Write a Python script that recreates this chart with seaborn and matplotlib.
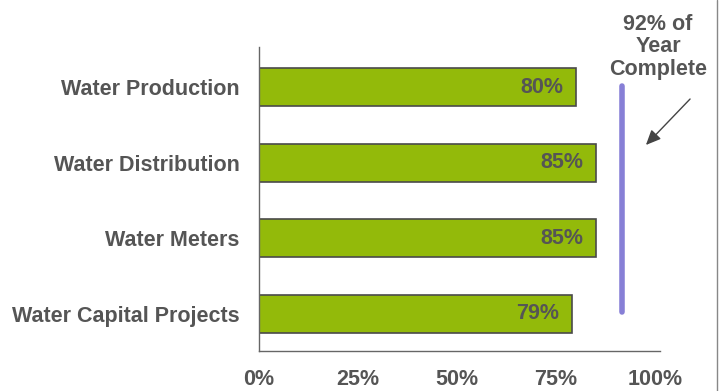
import seaborn as sns
import pandas as pd
import matplotlib.pyplot as plt
from matplotlib.lines import Line2D

divisions = ['Water Production', 'Water Distribution', 'Water Meters', 'Water Capital Projects']
pct_spent = [0.80, 0.85, 0.85, 0.79]
x_ticks = [0, 0.25, 0.5, 0.75, 1.0]
tick_labels = ['0%', '25%', '50%', '75%', '100%']
year_complete = 0.915

sns.set_style('white')
plt.rcParams['font.family'] = ['Liberation Sans', 'DejaVu Sans']

grey = '#555555'
fs = 15.5
df = pd.DataFrame({'division': divisions, 'pct': pct_spent})

fig = plt.figure(figsize=(7.24, 3.91), dpi=100)
ax = fig.add_axes([259 / 724, 40 / 391, 401 / 724, 304 / 391])

sns.barplot(data=df, x='pct', y='division', orient='h', color='#93BA0A',
            saturation=1, width=0.5, edgecolor='#4a4a4a', linewidth=1.2, ax=ax)

for i, v in enumerate(pct_spent):
    ax.annotate(f'{v:.0%}', (v, i), xytext=(-9, 0), textcoords='offset points',
                ha='right', va='center', fontsize=fs, fontweight='bold', color=grey)

# year complete marker
ax.plot([year_complete, year_complete], [-0.02, 2.98], color='#877fd6', lw=4,
        solid_capstyle='round', clip_on=False)

ax.set_xlim(0, 1.012)
ax.set_ylim(3.49, -0.53)
ax.set_xticks(x_ticks)
ax.set_xticklabels(tick_labels)
ax.set_xlabel('')
ax.set_ylabel('')
ax.tick_params(axis='x', length=0, pad=13, labelsize=fs, labelcolor=grey)
ax.tick_params(axis='y', length=0, pad=14, labelsize=fs, labelcolor=grey)
for lab in ax.get_xticklabels() + ax.get_yticklabels():
    lab.set_fontweight('bold')

sns.despine(ax=ax)
for s in ['left', 'bottom']:
    ax.spines[s].set_color('#666666')
    ax.spines[s].set_linewidth(1)

fig.text(658 / 724, 1 - 47 / 391, '92% of\nYear\nComplete', ha='center', va='center',
         fontsize=fs, fontweight='bold', color=grey, linespacing=1.1)
ax.annotate('', xy=(644 / 724, 1 - 147 / 391), xycoords='figure fraction',
            xytext=(692 / 724, 1 - 97 / 391), textcoords='figure fraction',
            arrowprops=dict(arrowstyle='-|>,head_length=0.9,head_width=0.4',
                            color='#444444', lw=1))

fig.add_artist(Line2D([717 / 724, 717 / 724], [0, 1], color='#888888', lw=1))

fig.savefig('out.png', dpi=100)
